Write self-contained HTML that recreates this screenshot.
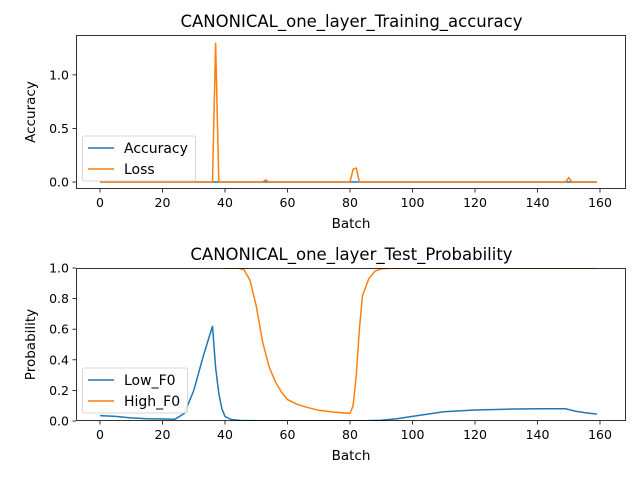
<!DOCTYPE html>
<html><head><meta charset="utf-8"><style>
body{margin:0;background:#fff;font-family:"Liberation Sans","DejaVu Sans",sans-serif;}
svg text{font-family:"DejaVu Sans","Liberation Sans",sans-serif;}
</style></head><body>
<svg id="c" width="640" height="480" xmlns="http://www.w3.org/2000/svg"></svg>
<script>
const lossX=[0,36,37,38,52,53,54,80,81,82,83,149,150,151,159];
const lossY=[0,0,1.3,0,0,0.02,0,0,0.12,0.13,0,0,0.04,0,0];
const accX=[0,159];
const accY=[0,0];
const lowX=[0,5,10,15,20,24,27,30,33,36,37,38,39,40,42,45,50,85,90,95,100,110,120,130,140,149,152,155,159];
const lowY=[0.035,0.03,0.02,0.015,0.013,0.012,0.05,0.2,0.42,0.62,0.35,0.18,0.08,0.03,0.01,0.003,0.002,0.002,0.005,0.015,0.03,0.06,0.072,0.077,0.08,0.08,0.065,0.055,0.045];
const highX=[40,44,46,48,50,52,54,56,58,60,63,66,70,75,80,81,82,83,84,86,88,90,95,159];
const highY=[1,1,0.99,0.92,0.75,0.52,0.36,0.26,0.19,0.14,0.11,0.09,0.07,0.058,0.05,0.1,0.3,0.6,0.82,0.93,0.98,0.995,1,1];
const xTicks=[0,20,40,60,80,100,120,140,160];
const topYTicks=[0,0.5,1.0];
const botYTicks=[0,0.2,0.4,0.6,0.8,1.0];

const svg=document.getElementById('c');
const NS='http://www.w3.org/2000/svg';
function mk(t,a,p){const e=document.createElementNS(NS,t);for(const k in a)e.setAttribute(k,a[k]);(p||svg).appendChild(e);return e;}
const L=76,R=626;
const sx=b=>100+b*3.125;

function panel(top,bot,ymin,ymax,yt,fmt,title,name,series,legend,legY){
  const g=mk('g',{});
  
  
  const sy=v=>bot-(v-ymin)/(ymax-ymin)*(bot-top);
  const clipId=name+'-clip';
  const cp=mk('clipPath',{id:clipId},g);mk('rect',{x:L,y:top,width:R-L,height:bot-top},cp);
  series.forEach(s=>{
    const d=s.x.map((b,i)=>(i?'L':'M')+sx(b).toFixed(1)+','+sy(s.y[i]).toFixed(1)).join('');
    const p=mk('path',{d:d,fill:'none',stroke:s.c,'stroke-width':1.5,'clip-path':'url(#'+clipId+')'},g);
    
    
  });
  mk('rect',{x:L+0.5,y:top+0.5,width:R-L-1,height:bot-top-1,fill:'none',stroke:'#000','stroke-width':0.8},g);
  xTicks.forEach(t=>{const x=sx(t);mk('line',{x1:x,x2:x,y1:bot,y2:bot+3.5,stroke:'#000','stroke-width':0.8},g);
    const tx=mk('text',{x:x,y:bot+18,'font-size':12.5,'text-anchor':'middle'},g);tx.textContent=t;});
  yt.forEach(t=>{const y=sy(t);mk('line',{x1:L-3.5,x2:L,y1:y,y2:y,stroke:'#000','stroke-width':0.8},g);
    const tx=mk('text',{x:L-7,y:y+4.5,'font-size':12.5,'text-anchor':'end'},g);tx.textContent=fmt(t);});
  const tt=mk('text',{x:(L+R)/2+0.5,y:top-8,'font-size':16.5,'text-anchor':'middle'},g);tt.textContent=title;
  const xl=mk('text',{x:(L+R)/2,y:bot+39,'font-size':13.5,'text-anchor':'middle'},g);xl.textContent='Batch';
  const yl=mk('text',{x:0,y:0,'font-size':13.5,'text-anchor':'middle',transform:'translate(35,'+(top+bot)/2+') rotate(-90)'},g);yl.textContent=legend.ylab;
  const lg=mk('g',{},g);
  
  
  mk('rect',{x:82.5,y:legY,width:legend.w,height:45,rx:2,fill:'#fff','fill-opacity':0.8,stroke:'#ccc','stroke-width':0.8},lg);
  legend.items.forEach((it,i)=>{const yy=legY+12+i*21;
    mk('line',{x1:88,x2:114,y1:yy,y2:yy,stroke:it.c,'stroke-width':1.5},lg);
    const t=mk('text',{x:124,y:yy+5,'font-size':14},lg);t.textContent=it.n;});
}
panel(35,189,-0.065,1.372,topYTicks,t=>t.toFixed(1),'CANONICAL_one_layer_Training_accuracy','top-panel',
  [{x:accX,y:accY,c:'#1f77b4',n:'accuracy-line'},{x:lossX,y:lossY,c:'#ff7f0e',n:'loss-line'}],
  {ylab:'Accuracy',w:113,items:[{n:'Accuracy',c:'#1f77b4'},{n:'Loss',c:'#ff7f0e'}]},136);
panel(268,421,0,1,botYTicks,t=>t.toFixed(1),'CANONICAL_one_layer_Test_Probability','bottom-panel',
  [{x:lowX,y:lowY,c:'#1f77b4',n:'low-f0-line'},{x:highX,y:highY,c:'#ff7f0e',n:'high-f0-line'}],
  {ylab:'Probability',w:105,items:[{n:'Low_F0',c:'#1f77b4'},{n:'High_F0',c:'#ff7f0e'}]},368);
</script>
</body></html>
